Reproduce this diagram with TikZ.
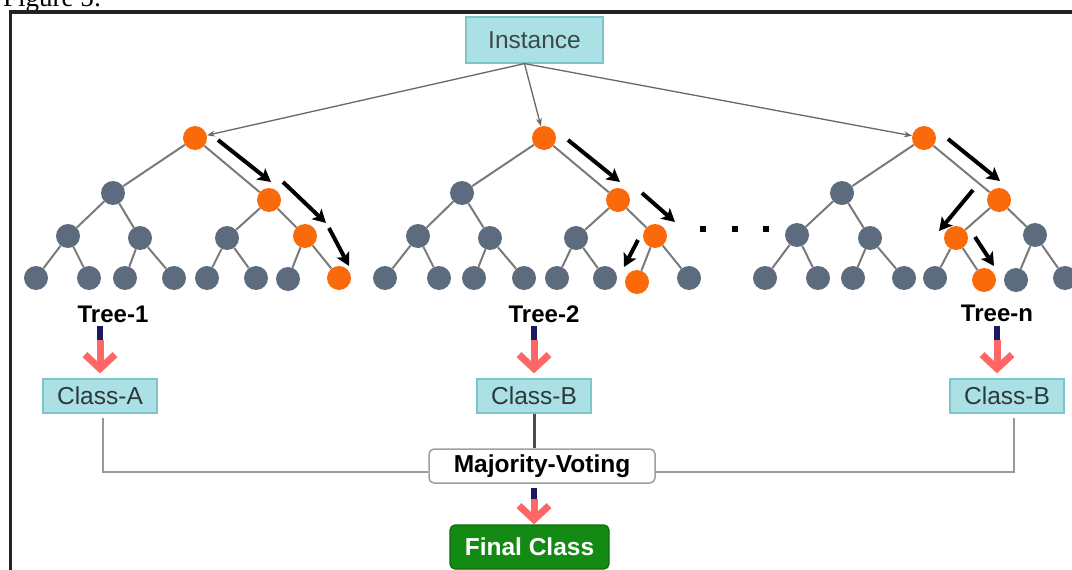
\documentclass[tikz,border=0pt]{standalone}
\usepackage{fontspec}
\setmainfont{Liberation Sans}
\newfontfamily\figserif{Liberation Serif}
\usetikzlibrary{arrows.meta,calc}
\definecolor{nodegray}{HTML}{5C6C7E}
\definecolor{nodeorange}{HTML}{FA6A0A}
\definecolor{edgegray}{HTML}{7A7A7A}
\definecolor{boxfill}{HTML}{ABE0E5}
\definecolor{boxborder}{HTML}{7CC5CB}
\definecolor{boxtext}{HTML}{2B3A3C}
\definecolor{pinkc}{HTML}{FF6666}
\definecolor{navyc}{HTML}{1A1A5E}
\definecolor{greenfill}{HTML}{138A13}
\definecolor{greenborder}{HTML}{0B6B0B}
\definecolor{framec}{HTML}{222222}
\newcommand\treeedges[1]{%
  \draw[edge] (#1)--(#1a) (#1)--(#1b)
    (#1a)--(#1aa) (#1a)--(#1ab) (#1b)--(#1ba) (#1b)--(#1bb)
    (#1aa)--(#1aaa) (#1aa)--(#1aab) (#1ab)--(#1aba) (#1ab)--(#1abb)
    (#1ba)--(#1baa) (#1ba)--(#1bab) (#1bb)--(#1bba) (#1bb)--(#1bbb);}
\begin{document}
\begin{tikzpicture}[x=1pt,y=-1pt,
  gn/.style={circle, fill=nodegray, minimum size=24pt, inner sep=0pt},
  on/.style={circle, fill=nodeorange, minimum size=24pt, inner sep=0pt},
  edge/.style={draw=edgegray, line width=2pt},
  cbox/.style={draw=boxborder, fill=boxfill, line width=1.2pt, minimum width=114pt,
    minimum height=34pt, inner sep=0pt, text=boxtext, font=\fontsize{24.5}{27}\selectfont},
  treelab/.style={inner sep=0pt, font=\bfseries\fontsize{24}{27}\selectfont, text=black},
  feed/.style={draw=edgegray!85!black, line width=1.3pt, -{Stealth[length=8pt,width=6pt]}},
  walk/.style={draw=black, line width=4pt, -{Stealth[length=13pt,width=14pt,inset=3pt]}},
  navyseg/.style={draw=navyc, line width=6pt},
  pinkarrow/.style={draw=pinkc, line width=7pt, -{Straight Barb[length=14pt,width=30pt]}},
  joinline/.style={draw=gray!80, line width=2pt},
  dotsq/.style={fill=black, minimum size=6pt, inner sep=0pt}]
\useasboundingbox (0,0) rectangle (1072,570);
% frame and caption
\node[anchor=base west, inner sep=0pt, font=\figserif\fontsize{27}{30}\selectfont] (figcap) at (3,6) {Figure 5:};
\draw[framec, line width=3.5pt] (10.5,575) -- (10.5,12) -- (1080,12);
% instance
\node[draw=boxborder, fill=boxfill, line width=1.2pt, minimum width=137pt, minimum height=46pt,
  inner sep=0pt, text=boxtext!80!gray, font=\fontsize{24.5}{27}\selectfont] (inst) at (534.5,40) {Instance};
% tree 1
\node[on] (t1) at (195,138) {};
\node[gn] (t1a) at (113,193) {};
\node[on] (t1b) at (269,200) {};
\node[gn] (t1aa) at (68,236) {};
\node[gn] (t1ab) at (140,238) {};
\node[gn] (t1ba) at (227,238) {};
\node[on] (t1bb) at (305,236) {};
\node[gn] (t1aaa) at (36,278) {};
\node[gn] (t1aab) at (89,278) {};
\node[gn] (t1aba) at (125,278) {};
\node[gn] (t1abb) at (174,278) {};
\node[gn] (t1baa) at (207,278) {};
\node[gn] (t1bab) at (256,278) {};
\node[gn] (t1bba) at (288,279) {};
\node[on] (t1bbb) at (339,278) {};
\treeedges{t1}
% tree 2
\node[on] (t2) at (544,138) {};
\node[gn] (t2a) at (462,193) {};
\node[on] (t2b) at (618,200) {};
\node[gn] (t2aa) at (418,236) {};
\node[gn] (t2ab) at (490,238) {};
\node[gn] (t2ba) at (576,238) {};
\node[on] (t2bb) at (655,236) {};
\node[gn] (t2aaa) at (385,278) {};
\node[gn] (t2aab) at (439,278) {};
\node[gn] (t2aba) at (474,278) {};
\node[gn] (t2abb) at (524,278) {};
\node[gn] (t2baa) at (557,278) {};
\node[gn] (t2bab) at (605,278) {};
\node[on] (t2bba) at (637,282) {};
\node[gn] (t2bbb) at (689,278) {};
\treeedges{t2}
% tree n
\node[on] (tn) at (924,138) {};
\node[gn] (tna) at (842,193) {};
\node[on] (tnb) at (999,200) {};
\node[gn] (tnaa) at (797,235) {};
\node[gn] (tnab) at (870,238) {};
\node[on] (tnba) at (956,238) {};
\node[gn] (tnbb) at (1035,235) {};
\node[gn] (tnaaa) at (765,278) {};
\node[gn] (tnaab) at (818,278) {};
\node[gn] (tnaba) at (853,278) {};
\node[gn] (tnabb) at (904,278) {};
\node[gn] (tnbaa) at (935,278) {};
\node[on] (tnbab) at (984,280) {};
\node[gn] (tnbba) at (1016,280) {};
\node[gn] (tnbbb) at (1065,278) {};
\treeedges{tn}
% dots
\node[dotsq] (dot1) at (703,229) {};
\node[dotsq] (dot2) at (735,229) {};
\node[dotsq] (dot3) at (766,229) {};
% instance feeds
\draw[feed] ([xshift=-10pt]inst.south) -- (t1);
\draw[feed] ([xshift=-10pt]inst.south) -- (t2);
\draw[feed] ([xshift=-10pt]inst.south) -- (tn);
% decision walks
\draw[walk] (218,140) -- (271,182);
\draw[walk] (283,182) -- (326,223);
\draw[walk] (329,228) -- (349,266);
\draw[walk] (568,140) -- (620,182);
\draw[walk] (642,193) -- (675,222);
\draw[walk] (638,240) -- (624,267);
\draw[walk] (948,139) -- (1000,181);
\draw[walk] (973,190) -- (939,231);
\draw[walk] (975,237) -- (994,266);
% labels
\node[treelab] (t1lab) at (113,314) {Tree-1};
\node[treelab] (t2lab) at (544,314) {Tree-2};
\node[treelab] (tnlab) at (997,313) {Tree-n};
% class boxes
\node[cbox] (c1) at (100,396) {Class-A};
\node[cbox] (c2) at (534,396) {Class-B};
\node[cbox] (cn) at (1007,396) {Class-B};
% tree -> class arrows
\draw[navyseg] ($(t1lab.south -| c1.north)+(0,3)$) -- ++(0,14) coordinate (m1);
\draw[pinkarrow, shorten >=5pt] (m1) -- (m1 |- c1.north);
\draw[navyseg] ($(t2lab.south -| c2.north)+(0,3)$) -- ++(0,14) coordinate (m2);
\draw[pinkarrow, shorten >=5pt] (m2) -- (m2 |- c2.north);
\draw[navyseg] ($(tnlab.south)+(0,4)$) -- ++(0,14) coordinate (mn);
\draw[pinkarrow, shorten >=5pt] (mn) -- (mn |- cn.north);
% majority voting
\node[draw=gray!75, fill=white, line width=1.5pt, rounded corners=5pt, minimum width=226pt,
  minimum height=34pt, inner sep=0pt, font=\bfseries\fontsize{24.5}{27}\selectfont] (mv) at (542,466) {Majority-Voting};
\draw[joinline] ([xshift=3pt,yshift=-4pt]c1.south) |- ([yshift=-6pt]mv.west);
\draw[joinline] ([xshift=7pt,yshift=-4pt]cn.south) |- ([yshift=-6pt]mv.east);
\draw[draw=gray!60!black, line width=3pt] (c2.south) -- (c2.south |- mv.north);
% final class
\node[draw=greenborder, fill=greenfill, line width=1.2pt, rounded corners=5pt, minimum width=159pt,
  minimum height=44pt, inner sep=0pt, text=white, font=\bfseries\fontsize{24.5}{27}\selectfont] (fc) at (529.5,547) {Final Class};
\draw[navyseg] ($(mv.south -| c2.south)+(0,4)$) -- ++(0,11) coordinate (mf);
\draw[pinkarrow] (mf) -- (mf |- fc.north);
\end{tikzpicture}
\end{document}
